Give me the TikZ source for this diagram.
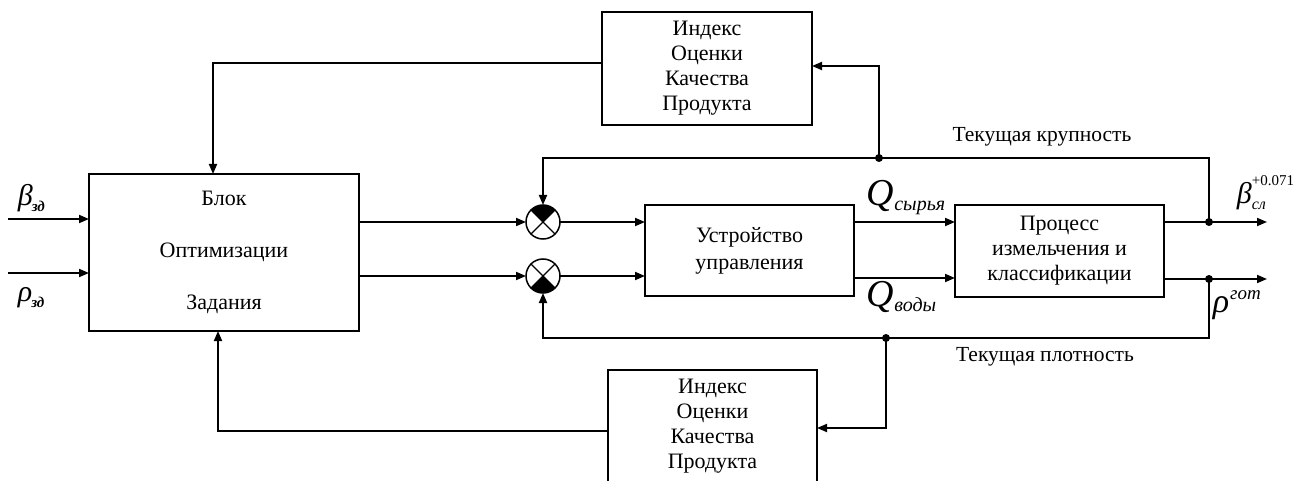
\documentclass[tikz,border=0pt]{standalone}
\usepackage{fontspec}
\setmainfont{Liberation Serif}
\usetikzlibrary{arrows.meta}

\begin{document}
\begin{tikzpicture}[x=1pt,y=-1pt,line width=1.8pt,
  >={Triangle[length=10pt,width=8pt]},
  blk/.style={draw,rectangle,inner sep=0pt,outer sep=0pt,align=center,
    font=\fontsize{22}{25}\selectfont},
  summer/.style={draw,circle,minimum size=34pt,inner sep=0pt,outer sep=0pt,line width=1.5pt},
  dot/.style={circle,fill,inner sep=0pt,minimum size=8pt},
  lbl/.style={inner sep=0pt,font=\fontsize{21.5}{24}\selectfont},
  sym/.style={inner sep=0pt,anchor=base west}]
\useasboundingbox (0,0) rectangle (1304,481);

% blocks
\node[blk,minimum width=270pt,minimum height=157pt,font=\fontsize{22}{52}\selectfont] (opt) at (224,252.5) {Блок\\Оптимизации\\Задания};
\node[blk,minimum width=210pt,minimum height=113pt] (tidx) at (707,68.5) {Индекс\\Оценки\\Качества\\Продукта};
\node[blk,minimum width=209pt,minimum height=113pt] (bidx) at (712.5,426.5) {Индекс\\Оценки\\Качества\\Продукта};
\node[blk,minimum width=209pt,minimum height=91pt,font=\fontsize{22}{27}\selectfont] (ctrl) at (749.5,250.5) {Устройство\\управления};
\node[blk,minimum width=209pt,minimum height=92pt] (proc) at (1059.5,251) {Процесс\\измельчения и\\классификации};

% summing junctions
\coordinate (c1) at (543,222);
\coordinate (c2) at (543,276);
\fill (c1) -- ++(-45:17) arc[start angle=-45,end angle=-135,radius=17] -- cycle;
\fill (c2) -- ++(45:17) arc[start angle=45,end angle=135,radius=17] -- cycle;
\node[summer] (s1) at (c1) {};
\node[summer] (s2) at (c2) {};
\foreach \s in {s1,s2}{
  \draw[line width=1.3pt] (\s.45) -- (\s.225) (\s.135) -- (\s.315);
}

% inputs
\coordinate (inb) at (8,219);
\coordinate (inr) at (8,273);
\draw[->] (inb) -- (opt.west |- inb);
\draw[->] (inr) -- (opt.west |- inr);

% forward path
\draw[->] (opt.east |- s1) -- (s1.west);
\draw[->] (opt.east |- s2) -- (s2.west);
\draw[->] (s1.east) -- (ctrl.west |- s1);
\draw[->] (s2.east) -- (ctrl.west |- s2);
\coordinate (q1) at (854,222);
\coordinate (q2) at (854,278);
\draw[->] (q1) -- (proc.west |- q1);
\draw[->] (q2) -- (proc.west |- q2);

% outputs
\coordinate (j1) at (1209,222);
\coordinate (j2) at (1209,279);
\coordinate (o1) at (1267,222);
\coordinate (o2) at (1267,279);
\draw[->] (proc.east |- j1) -- (o1);
\draw[->] (proc.east |- j2) -- (o2);
\node[dot] at (j1) {};
\node[dot] at (j2) {};

% size feedback
\coordinate (t1) at (1209,158);
\coordinate (tb) at (879,158);
\draw[->] (j1) -- (t1) -- (s1 |- t1) -- (s1.north);
\node[dot] at (tb) {};
\draw[->] (tb) -- (879,66) -- (tidx.east |- 0,66);
\draw[->] (tidx.west |- 0,63) -- (213,63) -- (opt.north -| 213,0);

% density feedback
\coordinate (b1) at (1209,338);
\coordinate (bb) at (886,338);
\draw[->] (j2) -- (b1) -- (s2 |- b1) -- (s2.south);
\node[dot] at (bb) {};
\draw[->] (bb) -- (886,428) -- (bidx.east |- 0,428);
\draw[->] (bidx.west |- 0,431) -- (218,431) -- (opt.south -| 218,0);

% signal labels
\node[lbl] (tk) at (1042,137) {Текущая крупность};
\node[lbl] (tp) at (1045,357) {Текущая плотность};

\node[sym] (lb) at (17,206) {\fontsize{30}{30}\selectfont\itshape β\kern-1pt\raisebox{-6pt}{\fontsize{15}{15}\selectfont\bfseries\itshape зд}};
\node[sym] (lr) at (17,301) {\fontsize{30}{30}\selectfont\itshape ρ\kern-1pt\raisebox{-6pt}{\fontsize{15}{15}\selectfont\bfseries\itshape зд}};
\node[sym] (lq1) at (866,206) {\fontsize{38}{38}\selectfont\itshape Q\kern0pt\raisebox{-5pt}{\fontsize{20}{20}\selectfont\itshape сырья}};
\node[sym] (lq2) at (866,306) {\fontsize{38}{38}\selectfont\itshape Q\kern0pt\raisebox{-5pt}{\fontsize{20}{20}\selectfont\itshape воды}};
\node[sym] (lbo) at (1236,204) {\fontsize{30}{30}\selectfont\itshape β\kern0pt\rlap{\raisebox{18pt}{\fontsize{15}{15}\selectfont\upshape +0.071}}\raisebox{-6pt}{\fontsize{16}{16}\selectfont\itshape сл}};
\node[sym] (lro) at (1212,312) {\fontsize{34}{34}\selectfont\itshape ρ\kern1pt\raisebox{13pt}{\fontsize{19}{19}\selectfont\itshape гот}};
\end{tikzpicture}
\end{document}
